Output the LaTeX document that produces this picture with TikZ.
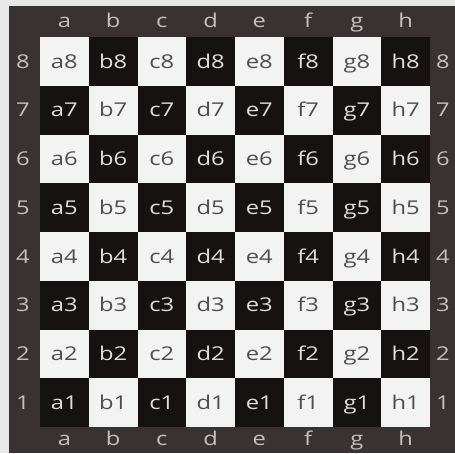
\documentclass[tikz,border=0pt]{standalone}
\usepackage{fontspec}
\setmainfont{Open Sans}
\newfontfamily\boardfont[FakeStretch=1.25]{Open Sans}
\definecolor{bgc}{HTML}{E8E8E8}
\definecolor{framec}{HTML}{3A3232}
\definecolor{darksq}{HTML}{161212}
\definecolor{lightsq}{HTML}{F3F3F3}
\definecolor{lighttxt}{HTML}{4E4E4E}
\definecolor{darktxt}{HTML}{DEDEDE}
\definecolor{edgetxt}{HTML}{C4C0C0}
\tikzset{
  sqtext/.style={draw=none,minimum size=48.75pt,inner sep=0pt,text height=13.6pt,text depth=0pt,font=\boardfont\fontsize{19}{19}\selectfont},
  sqlight/.style={sqtext,fill=lightsq,text=lighttxt},
  sqdark/.style={sqtext,fill=darksq,text=darktxt},
  edgelabel/.style={text=edgetxt,inner sep=0pt,text height=13.6pt,text depth=0pt,font=\boardfont\fontsize{19}{19}\selectfont}
}
\begin{document}
\begin{tikzpicture}[x=1pt,y=-1pt]
\useasboundingbox (0,0) rectangle (455,453);
\fill[bgc] (0,0) rectangle (455,453);
\fill[framec] (9,6) rectangle (455,453);
\foreach \f [count=\i from 0] in {a,b,c,d,e,f,g,h}{
  \foreach \r in {1,...,8}{
    \pgfmathsetmacro{\cx}{40+48.75*\i+24.375}
    \pgfmathsetmacro{\cy}{37+48.75*(8-\r)+24.375}
    \pgfmathtruncatemacro{\parity}{mod(\i+\r,2)}
    \ifnum\parity=0
      \node[sqlight] (sq-\f\r) at (\cx,\cy) {\f\r};
    \else
      \node[sqdark] (sq-\f\r) at (\cx,\cy) {\f\r};
    \fi
  }
  \pgfmathsetmacro{\cx}{40+48.75*\i+24.375}
  \node[edgelabel] (top-\f) at (\cx,21) {\f};
  \node[edgelabel] (bot-\f) at (\cx,439) {\f};
}
\foreach \r in {1,...,8}{
  \pgfmathsetmacro{\cy}{37+48.75*(8-\r)+24.375}
  \node[edgelabel] (left-\r) at (23,\cy) {\r};
  \node[edgelabel] (right-\r) at (443,\cy) {\r};
}
\end{tikzpicture}
\end{document}
